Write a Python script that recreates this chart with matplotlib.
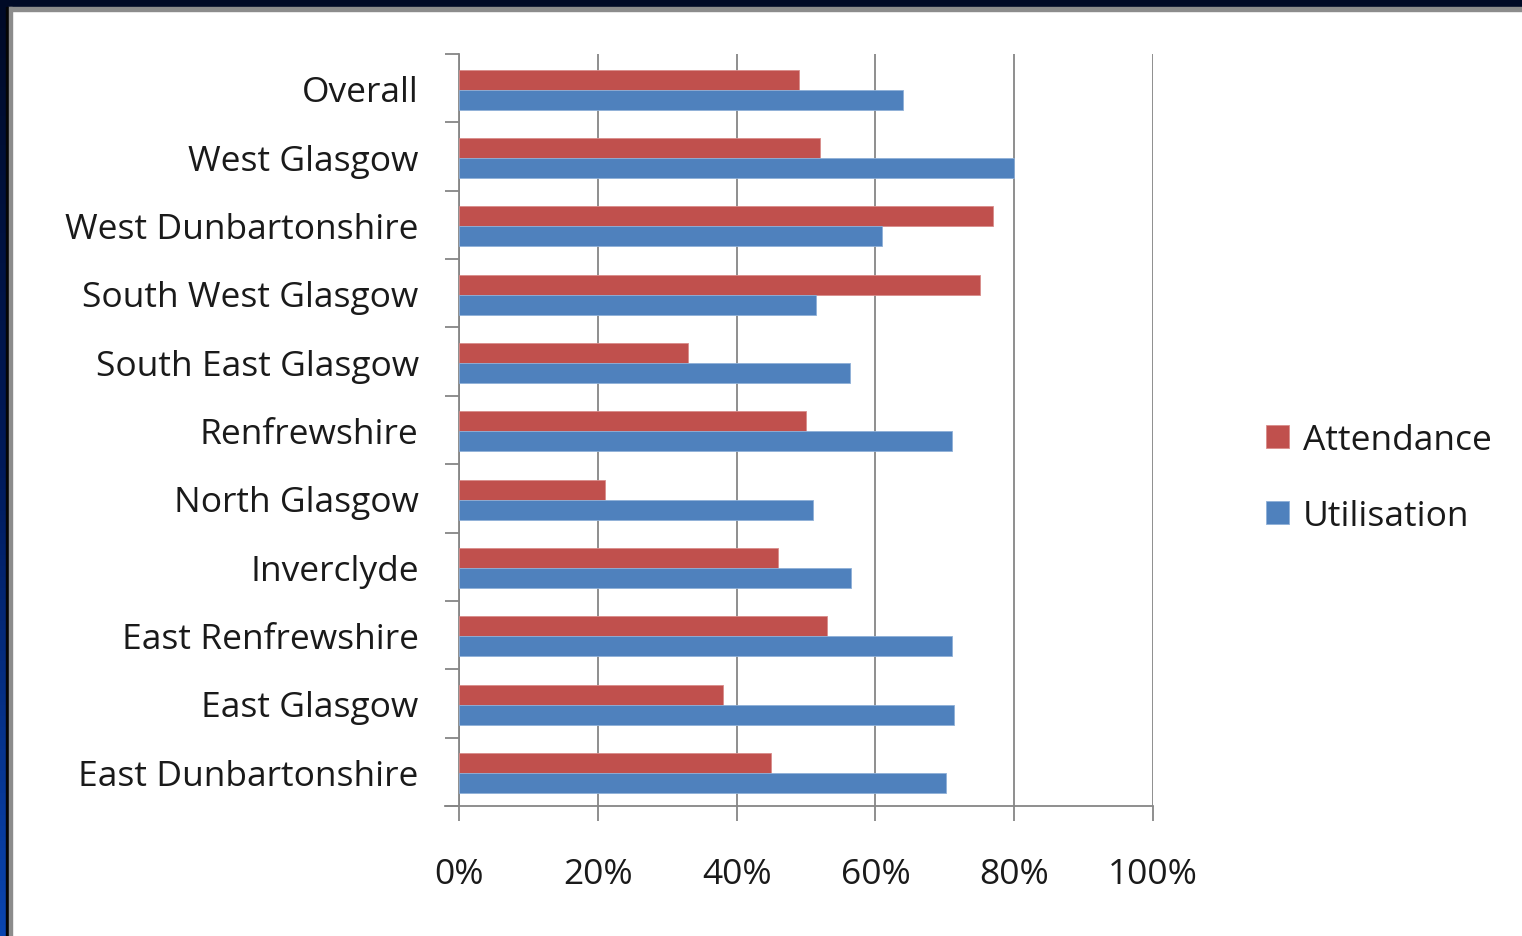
import matplotlib.pyplot as plt
import numpy as np
from matplotlib.patches import Rectangle
from matplotlib.ticker import FixedLocator

regions = ['Overall', 'West Glasgow', 'West Dunbartonshire', 'South West Glasgow',
           'South East Glasgow', 'Renfrewshire', 'North Glasgow', 'Inverclyde',
           'East Renfrewshire', 'East Glasgow', 'East Dunbartonshire']
attendance = [49, 52, 77, 75, 33, 50, 21, 46, 53, 38, 45]
utilisation = [64, 80, 61, 51.5, 56.3, 71, 51, 56.5, 71, 71.3, 70.2]
x_ticks = [0, 20, 40, 60, 80, 100]

plt.rcParams['font.family'] = ['Open Sans', 'DejaVu Sans']

red = '#C0504D'
blue = '#4F81BD'
grid_grey = '#868686'
fs = 25.5

fig = plt.figure(figsize=(15.22, 9.37), dpi=100)
fig.patch.set_facecolor('white')

# slide frame: dark band on top, blue gradient on the left
W, H = 1522, 937
fig.patches.append(Rectangle((0, 1 - 8 / H), 1, 8 / H, transform=fig.transFigure,
                             color='#000a26', zorder=0))
fig.patches.append(Rectangle((8 / W, 1 - 12 / H), 1, 4 / H, transform=fig.transFigure,
                             color='#8c8c8c', zorder=0))
strip = fig.add_axes([0, 0, 6 / W, 1])
grad = np.linspace(0, 1, 256).reshape(-1, 1)
strip.imshow(grad, aspect='auto', cmap=plt.matplotlib.colors.LinearSegmentedColormap.from_list(
    'f', ['#0a45b0', '#001a5a', '#000a26']), origin='lower')
strip.axis('off')
fig.patches.append(Rectangle((6 / W, 0), 2.5 / W, 1 - 8 / H, transform=fig.transFigure,
                             color='#050505', zorder=0))
fig.patches.append(Rectangle((8.5 / W, 0), 3.5 / W, 1 - 8 / H, transform=fig.transFigure,
                             color='#8c8c8c', zorder=0))

ax = fig.add_axes([459 / W, 1 - 807 / H, (1153 - 459) / W, (807 - 55) / H])

y = np.arange(len(regions))
h = 0.292
ax.barh(y - h / 2 + 0.02, attendance, height=h, color=red, edgecolor='#d98c8a', linewidth=0.6,
        label='Attendance', zorder=3)
ax.barh(y + h / 2 + 0.02, utilisation, height=h, color=blue, edgecolor='#8fb0d8', linewidth=0.6,
        label='Utilisation', zorder=3)

ax.set_xlim(0, 100)
ax.set_ylim(len(regions) - 0.5, -0.5)
ax.set_xticks(x_ticks)
ax.set_xticklabels([f'{t}%' for t in x_ticks])
ax.set_yticks(y)
ax.set_yticklabels(regions)
ax.yaxis.set_minor_locator(FixedLocator(np.arange(-0.5, len(regions), 1)))
ax.tick_params(axis='y', which='major', length=0, pad=29, labelsize=fs, labelcolor='#1a1a1a')
ax.tick_params(axis='y', which='minor', length=10, width=1.3, color=grid_grey, direction='out')
ax.tick_params(axis='x', length=11, width=1.3, color=grid_grey, pad=26, labelsize=fs,
               labelcolor='#1a1a1a')

ax.grid(axis='x', color=grid_grey, linewidth=1.3, zorder=0)
ax.set_axisbelow(True)
for s in ['top', 'right']:
    ax.spines[s].set_visible(False)
for s in ['left', 'bottom']:
    ax.spines[s].set_color(grid_grey)
    ax.spines[s].set_linewidth(1.3)
ax.spines['bottom'].set_bounds(-2, 100)
ax.spines['bottom'].set_clip_on(False)

fig.legend(loc='center left', bbox_to_anchor=(1234 / W, 1 - 479 / H), frameon=False,
           fontsize=fs, labelspacing=1.18, handlelength=0.65, handleheight=0.65,
           handletextpad=0.4, labelcolor='#1a1a1a')

fig.savefig('out.png', dpi=100)
